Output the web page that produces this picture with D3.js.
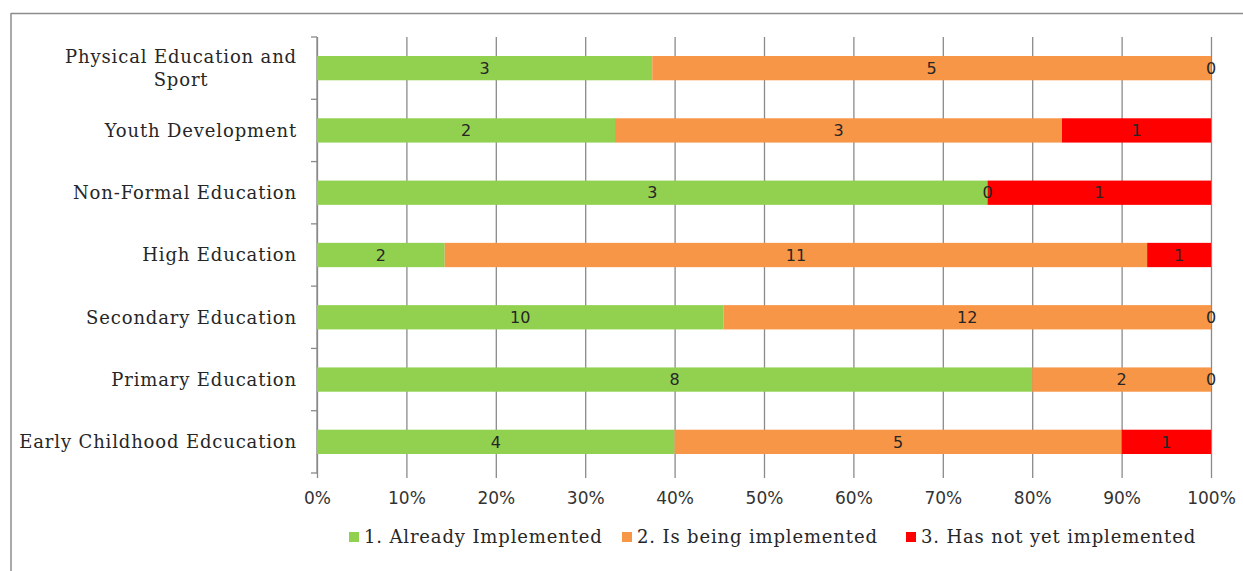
<!DOCTYPE html>
<html>
<head>
<meta charset="utf-8">
<script src="https://cdn.jsdelivr.net/npm/d3@7"></script>
<style>
  html, body { margin: 0; padding: 0; background: #fff; }
  svg { display: block; }
</style>
</head>
<body>
<svg id="chart" width="1243" height="571"></svg>
<script>
// Education sectors, listed top to bottom
const categories = [
  "Physical Education and Sport",
  "Youth Development",
  "Non-Formal Education",
  "High Education",
  "Secondary Education",
  "Primary Education",
  "Early Childhood Edcucation"
];
const seriesNames = ["1. Already Implemented", "2. Is being implemented", "3. Has not yet implemented"];
const alreadyImplemented = [3, 2, 3, 2, 10, 8, 4];
const beingImplemented   = [5, 3, 0, 11, 12, 2, 5];
const notYetImplemented  = [0, 1, 1, 1, 0, 0, 1];
const seriesColors = ["#92D050", "#F79646", "#FF0000"];
const tickValues = [0, 0.1, 0.2, 0.3, 0.4, 0.5, 0.6, 0.7, 0.8, 0.9, 1];

const rows = categories.map((c, i) => ({
  category: c,
  v: [alreadyImplemented[i], beingImplemented[i], notYetImplemented[i]]
}));

const svg = d3.select("#chart");
const serif = "'DejaVu Serif', serif";
const sans = "'DejaVu Sans', sans-serif";

// outer frame (top and left edges)
svg.append("line").attr("x1", 11).attr("x2", 1243).attr("y1", 13.5).attr("y2", 13.5)
  .attr("stroke", "#8c8c8c").attr("stroke-width", 1.5);
svg.append("line").attr("x1", 11).attr("x2", 11).attr("y1", 13).attr("y2", 571)
  .attr("stroke", "#8c8c8c").attr("stroke-width", 1.5);

const plot = { left: 317, right: 1211, top: 37, bottom: 473 };

const x = d3.scaleLinear().domain([0, 1]).range([plot.left, plot.right]);
const y = d3.scaleBand().domain(categories).range([plot.top, plot.bottom]).paddingInner(0.61).paddingOuter(0.305);

// vertical gridlines with ticks below the plot
const xAxis = d3.axisBottom(x).tickValues(tickValues).tickFormat(d3.format(".0%"))
  .tickSize(-(plot.bottom - plot.top)).tickPadding(14);
const gx = svg.append("g").attr("transform", `translate(0,${plot.bottom + 5})`).call(xAxis);
gx.select(".domain").remove();
gx.selectAll(".tick line").attr("stroke", "#8a8a8a").attr("stroke-width", 1.3)
  .attr("y1", 0).attr("y2", -(plot.bottom - plot.top + 5));
gx.selectAll(".tick text").attr("font-family", sans).attr("font-size", 17).attr("fill", "#333");

// category axis: line plus tick marks at band boundaries
const bounds = d3.range(categories.length + 1).map(i => plot.top + i * ((plot.bottom - plot.top) / categories.length));
svg.append("line").attr("x1", plot.left).attr("x2", plot.left).attr("y1", plot.top).attr("y2", plot.bottom)
  .attr("stroke", "#8a8a8a").attr("stroke-width", 1.3);
svg.selectAll(".ytick").data(bounds).join("line").attr("class", "ytick")
  .attr("x1", plot.left - 6).attr("x2", plot.left).attr("y1", d => d).attr("y2", d => d)
  .attr("stroke", "#8a8a8a").attr("stroke-width", 1.3);

// stacked 100% bars
const stacked = rows.map(r => {
  const total = d3.sum(r.v);
  let acc = 0;
  return r.v.map((v, k) => {
    const s = { category: r.category, value: v, k, x0: acc / total, x1: (acc + v) / total };
    acc += v;
    return s;
  });
});
const segs = stacked.flat();

svg.append("g").selectAll("rect").data(segs.filter(s => s.value > 0)).join("rect")
  .attr("x", d => x(d.x0)).attr("width", d => x(d.x1) - x(d.x0))
  .attr("y", d => y(d.category)).attr("height", y.bandwidth())
  .attr("fill", d => seriesColors[d.k]);

// segment value labels
svg.append("g").selectAll("text").data(segs).join("text")
  .attr("x", d => (x(d.x0) + x(d.x1)) / 2)
  .attr("y", d => y(d.category) + y.bandwidth() / 2)
  .attr("dy", "0.36em").attr("text-anchor", "middle")
  .attr("font-family", sans).attr("font-size", 16).attr("fill", "#262626")
  .text(d => d.value);

// category labels (long names wrap onto two centred lines)
const labelRight = 297;
categories.forEach(c => {
  const lines = c === "Physical Education and Sport" ? ["Physical Education and", "Sport"] : [c];
  const cy = y(c) + y.bandwidth() / 2;
  const t = svg.append("text").attr("font-family", serif).attr("font-size", 18).attr("fill", "#262626")
    .attr("letter-spacing", 0.85);
  const lh = 23;
  lines.forEach((ln, i) => {
    t.append("tspan").attr("x", 0).attr("y", cy + (i - (lines.length - 1) / 2) * lh).attr("dy", "0.35em").text(ln);
  });
  const w = d3.max(t.selectAll("tspan").nodes(), n => n.getComputedTextLength());
  t.attr("text-anchor", "middle").selectAll("tspan").attr("x", labelRight - w / 2);
});

// legend
const legendItems = [
  { name: seriesNames[0], color: seriesColors[0], x: 349 },
  { name: seriesNames[1], color: seriesColors[1], x: 622 },
  { name: seriesNames[2], color: seriesColors[2], x: 906 }
];
const lg = svg.append("g").selectAll("g").data(legendItems).join("g")
  .attr("transform", d => `translate(${d.x},537)`);
lg.append("rect").attr("x", 0).attr("y", -5).attr("width", 10).attr("height", 10).attr("fill", d => d.color);
lg.append("text").attr("x", 15).attr("dy", "0.35em")
  .attr("font-family", serif).attr("font-size", 18).attr("fill", "#262626").attr("letter-spacing", 0.85)
  .text(d => d.name);
</script>
</body>
</html>
